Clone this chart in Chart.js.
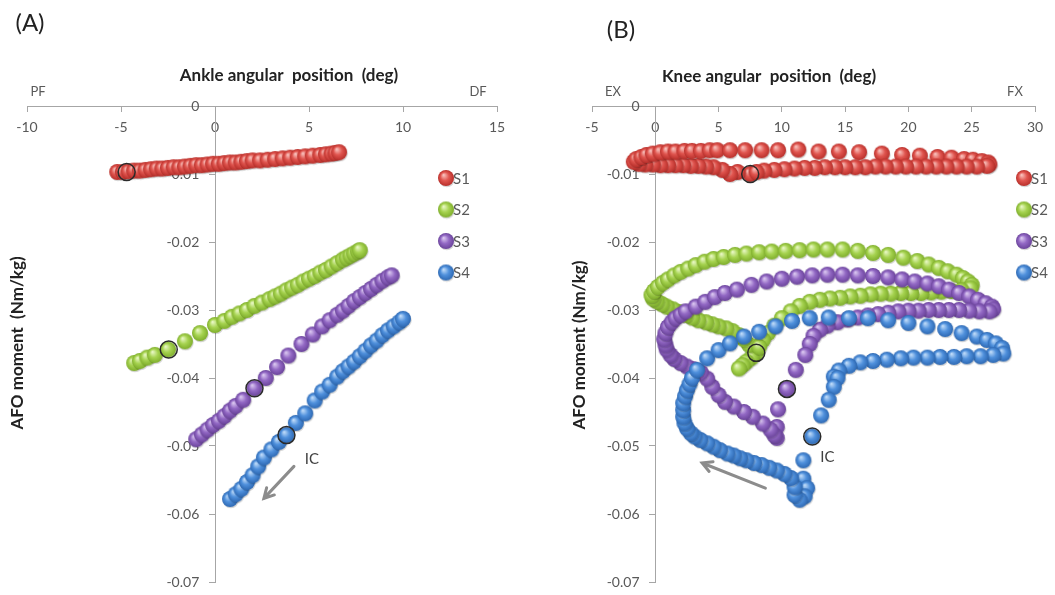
<!DOCTYPE html>
<html>
<head>
<meta charset="utf-8">
<script src="https://cdn.jsdelivr.net/npm/chart.js@4.4.1/dist/chart.umd.min.js"></script>
<style>
  body { margin: 0; background: #fff; }
  #wrap { position: relative; width: 1055px; height: 595px; }
  .panel { position: absolute; top: 0; }
</style>
</head>
<body>
<div id="wrap">
  <canvas id="chartA" class="panel" width="527" height="595" style="left:0"></canvas>
  <canvas id="chartB" class="panel" width="528" height="595" style="left:527px"></canvas>
</div>
<script>
// ---- series names / colours ----
const seriesNames = ['S1', 'S2', 'S3', 'S4'];

// ---- (A) ankle angle (deg) vs AFO moment (Nm/kg) ----
const ankleS1X = [-5.2, -4.9, -4.6, -4.3, -4.0, -3.7, -3.4, -3.1, -2.8, -2.5, -2.2, -1.9, -1.6, -1.3, -1.0, -0.7, -0.4, -0.1, 0.2, 0.5, 0.8, 1.1, 1.4, 1.7, 2.0, 2.4, 2.8, 3.2, 3.6, 4.0, 4.4, 4.8, 5.2, 5.6, 5.9, 6.2, 6.4, 6.6];
const ankleS1Y = [-0.0097, -0.0097, -0.0096, -0.0095, -0.0095, -0.0094, -0.0093, -0.0092, -0.0092, -0.0091, -0.0090, -0.0090, -0.0089, -0.0088, -0.0087, -0.0087, -0.0086, -0.0085, -0.0085, -0.0084, -0.0083, -0.0083, -0.0082, -0.0081, -0.0080, -0.0080, -0.0079, -0.0078, -0.0077, -0.0076, -0.0075, -0.0074, -0.0073, -0.0072, -0.0071, -0.0070, -0.0069, -0.0068];

const ankleS2X = [-4.3, -4.0, -3.6, -3.2, -2.5, -1.6, -0.8, 0.0, 0.5, 0.9, 1.3, 1.7, 2.1, 2.5, 2.9, 3.2, 3.5, 3.8, 4.1, 4.4, 4.7, 5.0, 5.3, 5.6, 5.9, 6.2, 6.5, 6.8, 7.0, 7.2, 7.4, 7.6, 7.7];
const ankleS2Y = [-0.0378, -0.0375, -0.0370, -0.0366, -0.0358, -0.0346, -0.0334, -0.0322, -0.0316, -0.0310, -0.0305, -0.0300, -0.0294, -0.0289, -0.0284, -0.0280, -0.0276, -0.0271, -0.0267, -0.0263, -0.0258, -0.0254, -0.0250, -0.0245, -0.0241, -0.0236, -0.0231, -0.0226, -0.0223, -0.0220, -0.0217, -0.0214, -0.0212];

const ankleS3X = [-1.0, -0.7, -0.4, -0.1, 0.2, 0.5, 0.8, 1.1, 1.5, 2.1, 2.7, 3.3, 3.9, 4.6, 5.2, 5.7, 6.1, 6.5, 6.8, 7.1, 7.4, 7.7, 8.0, 8.3, 8.6, 8.9, 9.2, 9.4];
const ankleS3Y = [-0.0490, -0.0483, -0.0476, -0.0469, -0.0463, -0.0456, -0.0448, -0.0441, -0.0432, -0.0415, -0.0400, -0.0384, -0.0367, -0.0350, -0.0336, -0.0324, -0.0315, -0.0307, -0.0301, -0.0294, -0.0287, -0.0281, -0.0275, -0.0269, -0.0263, -0.0257, -0.0252, -0.0249];

const ankleS4X = [0.8, 1.1, 1.4, 1.7, 2.0, 2.3, 2.6, 3.0, 3.4, 3.8, 4.3, 4.8, 5.3, 5.7, 6.1, 6.5, 6.8, 7.1, 7.4, 7.7, 8.0, 8.3, 8.6, 8.9, 9.2, 9.5, 9.8, 10.0];
const ankleS4Y = [-0.0578, -0.0571, -0.0563, -0.0553, -0.0543, -0.0530, -0.0517, -0.0505, -0.0494, -0.0484, -0.0466, -0.0452, -0.0433, -0.0420, -0.0410, -0.0398, -0.0390, -0.0383, -0.0376, -0.0368, -0.0360, -0.0352, -0.0345, -0.0337, -0.0330, -0.0324, -0.0318, -0.0313];

// initial contact points (ringed)
const ankleIcX = [-4.7, -2.46, 2.1, 3.8];
const ankleIcY = [-0.0097, -0.0358, -0.0415, -0.0484];

// ---- (B) knee angle (deg) vs AFO moment (Nm/kg) ----
const kneeS1X = [7.5, 6.5, 5.9, 5.3, 4.6, 4.0, 3.4, 2.8, 2.2, 1.6, 1.0, 0.4, -0.2, -0.8, -1.3, -1.7,
  -1.5, -1.1, -0.7, -0.2, 0.4, 1.0, 1.6, 2.3, 2.9, 3.6, 4.3, 4.9, 5.9, 7.1, 8.4, 9.7, 11.3, 12.9, 14.5, 16.1, 17.9, 19.5, 20.9, 22.3, 23.4, 24.4, 25.1, 25.8, 26.3, 26.4, 26.2,
  25.4, 24.6, 23.8, 23.0, 22.2, 21.4, 20.6, 19.8, 19.0, 18.2, 17.4, 16.6, 15.8, 15.0, 14.2, 13.4, 12.6, 11.8, 11.0, 10.2, 9.4, 8.6, 8.0];
const kneeS1Y = [-0.0100, -0.0097, -0.0100, -0.0094, -0.0090, -0.0089, -0.0088, -0.0088, -0.0087, -0.0087, -0.0087, -0.0087, -0.0086, -0.0086, -0.0085, -0.0082,
  -0.0078, -0.0075, -0.0072, -0.0070, -0.0068, -0.0067, -0.0067, -0.0066, -0.0066, -0.0066, -0.0065, -0.0065, -0.0065, -0.0065, -0.0065, -0.0065, -0.0064, -0.0067, -0.0067, -0.0068, -0.0070, -0.0072, -0.0073, -0.0075, -0.0076, -0.0078, -0.0079, -0.0081, -0.0083, -0.0086, -0.0088,
  -0.0089, -0.0089, -0.0089, -0.0089, -0.0089, -0.0089, -0.0089, -0.0089, -0.0089, -0.0089, -0.0089, -0.0090, -0.0090, -0.0090, -0.0090, -0.0090, -0.0091, -0.0091, -0.0092, -0.0093, -0.0094, -0.0095, -0.0097];

const kneeS2X = [7.98, 7.6, 7.2, 6.9, 6.6,
  7.4, 7.0, 6.6, 6.1, 5.6, 5.0, 4.5, 4.0, 3.4, 2.9, 2.4, 1.9, 1.4, 0.9, 0.5, 0.1, -0.2, -0.3, -0.1, 0.2, 0.6, 1.0, 1.5, 2.0, 2.6, 3.2, 3.9, 4.6, 5.4, 6.3, 7.2, 8.2, 9.2, 10.3, 11.4, 12.5, 13.6, 14.8, 16.0, 17.2, 18.4, 19.6, 20.7, 21.6, 22.4, 23.1, 23.8, 24.3, 24.7, 25.0, 24.9,
  24.2, 23.4, 22.6, 21.8, 21.0, 20.2, 19.4, 18.6, 17.8, 17.0, 16.2, 15.4, 14.6, 13.8, 13.0, 12.2, 11.4, 10.7, 10.0, 9.4, 8.9, 8.5, 8.2];
const kneeS2Y = [-0.0363, -0.0370, -0.0376, -0.0381, -0.0386,
  -0.0351, -0.0343, -0.0337, -0.0331, -0.0327, -0.0324, -0.0321, -0.0318, -0.0315, -0.0311, -0.0307, -0.0303, -0.0299, -0.0295, -0.0291, -0.0287, -0.0283, -0.0278, -0.0272, -0.0266, -0.0260, -0.0255, -0.0249, -0.0244, -0.0239, -0.0234, -0.0229, -0.0225, -0.0222, -0.0219, -0.0217, -0.0215, -0.0214, -0.0213, -0.0212, -0.0211, -0.0211, -0.0211, -0.0213, -0.0216, -0.0219, -0.0223, -0.0228, -0.0233, -0.0238, -0.0243, -0.0248, -0.0253, -0.0258, -0.0263, -0.0268,
  -0.0271, -0.0272, -0.0273, -0.0274, -0.0275, -0.0275, -0.0275, -0.0276, -0.0276, -0.0277, -0.0279, -0.0280, -0.0282, -0.0283, -0.0285, -0.0288, -0.0294, -0.0302, -0.0312, -0.0323, -0.0334, -0.0344, -0.0354];

const kneeS3X = [10.4, 9.7, 9.6, 9.6, 9.4,
  9.1, 8.5, 7.7, 7.0, 6.2, 5.5, 5.0, 4.5, 4.1, 3.6, 3.0, 2.5, 2.0, 1.5, 1.2, 0.9, 0.8, 0.7, 0.8, 1.0, 1.3, 1.6, 2.0, 2.4, 3.2, 3.95, 4.7, 5.5, 6.45, 7.6, 8.8, 10.0, 11.2, 12.4, 13.6, 14.8, 16.0, 17.2, 18.4, 19.5, 20.5, 21.5, 22.4, 23.2, 24.0, 24.8, 25.5, 26.1, 26.6, 26.7, 26.4,
  25.6, 24.8, 24.0, 23.2, 22.4, 21.6, 20.8, 20.0, 19.2, 18.4, 17.6, 16.8, 16.0, 15.2, 14.4, 13.6, 13.0, 12.5, 12.2, 11.85, 11.1];
const kneeS3Y = [-0.0416, -0.0446, -0.0472, -0.0488, -0.0484,
  -0.0476, -0.0467, -0.0457, -0.0450, -0.0442, -0.0435, -0.0425, -0.0413, -0.0401, -0.0392, -0.0387, -0.0383, -0.0378, -0.0372, -0.0366, -0.0358, -0.0351, -0.0343, -0.0334, -0.0325, -0.0318, -0.0312, -0.0307, -0.0302, -0.0295, -0.0288, -0.0281, -0.0275, -0.0270, -0.0263, -0.0258, -0.0254, -0.0251, -0.0249, -0.0248, -0.0248, -0.0249, -0.0250, -0.0252, -0.0255, -0.0258, -0.0261, -0.0265, -0.0270, -0.0275, -0.0280, -0.0285, -0.0290, -0.0295, -0.0299, -0.0302,
  -0.0302, -0.0301, -0.0300, -0.0300, -0.0300, -0.0300, -0.0301, -0.0301, -0.0302, -0.0304, -0.0306, -0.0308, -0.0311, -0.0314, -0.0318, -0.0323, -0.0329, -0.0338, -0.0350, -0.0366, -0.0388];

const kneeS4X = [12.4, 11.7, 11.7, 12.0, 11.8, 11.4, 11.0, 11.0, 10.7, 10.2, 9.6, 9.0, 8.4, 7.8, 7.2, 6.7, 6.2, 5.7, 5.1, 4.6, 4.1, 3.55, 3.1, 2.8, 2.5, 2.3, 2.2, 2.2, 2.2, 2.35, 2.5, 2.7, 2.9,
  3.3, 4.1, 5.0, 5.9, 7.0, 8.2, 9.5, 10.8, 12.2, 13.7, 15.3, 16.8, 18.4, 20.0, 21.5, 22.9, 24.2, 25.4, 26.2, 26.9, 27.4, 27.5,
  26.7, 25.7, 24.6, 23.6, 22.5, 21.5, 20.4, 19.4, 18.3, 17.2, 16.2, 15.3, 14.5, 14.1, 14.4, 14.1, 13.7, 13.1];
const kneeS4Y = [-0.0486, -0.0521, -0.0548, -0.0562, -0.0574, -0.0579, -0.0572, -0.0560, -0.0547, -0.0541, -0.0536, -0.0532, -0.0528, -0.0525, -0.0521, -0.0518, -0.0514, -0.0511, -0.0506, -0.0501, -0.0496, -0.0491, -0.0486, -0.0481, -0.0474, -0.0466, -0.0457, -0.0447, -0.0437, -0.0427, -0.0418, -0.0409, -0.0400,
  -0.0388, -0.0371, -0.0359, -0.0349, -0.0339, -0.0332, -0.0324, -0.0316, -0.0312, -0.0311, -0.0312, -0.0312, -0.0315, -0.0319, -0.0324, -0.0328, -0.0334, -0.0339, -0.0344, -0.0349, -0.0356, -0.0364,
  -0.0366, -0.0368, -0.0368, -0.0369, -0.0369, -0.0370, -0.0370, -0.0371, -0.0373, -0.0375, -0.0377, -0.0382, -0.0389, -0.0398, -0.0400, -0.0413, -0.0432, -0.0455];

const kneeIcX = [7.5, 7.98, 10.4, 12.4];
const kneeIcY = [-0.0100, -0.0363, -0.0416, -0.0486];

// ---- look ----
const FONT = 'Lato, "Open Sans", sans-serif';
const GREY = '#595959';
const AXIS = '#a6a6a6';
const ballColors = [
  { base: '#e0554f', light: '#f8bdb8', dark: '#b9302b' },
  { base: '#a6d350', light: '#e6f6c0', dark: '#7fae2c' },
  { base: '#9268c4', light: '#d8c4ef', dark: '#6b449b' },
  { base: '#4f90dc', light: '#bcd9f8', dark: '#2e69b3' }
];

// little shaded ball used as point style
function sphere(c) {
  const size = 20;
  const cv = document.createElement('canvas');
  cv.width = cv.height = size;
  const g = cv.getContext('2d');
  const r = 8;
  const cx = size / 2, cy = size / 2;
  g.fillStyle = 'rgba(0,0,0,0.16)';
  g.beginPath();
  g.arc(cx + 0.8, cy + 1.3, r, 0, Math.PI * 2);
  g.fill();
  const grad = g.createRadialGradient(cx - 2.4, cy - 3, 0.5, cx, cy, r);
  grad.addColorStop(0, c.light);
  grad.addColorStop(0.5, c.base);
  grad.addColorStop(1, c.dark);
  g.fillStyle = grad;
  g.beginPath();
  g.arc(cx, cy, r, 0, Math.PI * 2);
  g.fill();
  return cv;
}
const balls = ballColors.map(sphere);

const pts = (xs, ys) => xs.map((x, i) => ({ x: x, y: ys[i] }));

// y labels sit flush on a centred axis, so leave a gap after the number
function yLabel(v) {
  const txt = Math.abs(v) < 1e-9 ? '0' : v.toFixed(2);
  return txt + '\u2002\u2002\u2009';
}

// texts, legend, arrow, IC label
const extrasPlugin = {
  id: 'extras',
  afterDraw(chart, args, o) {
    const ctx = chart.ctx;
    const sx = chart.scales.x, sy = chart.scales.y;
    ctx.save();
    ctx.textAlign = 'center';
    ctx.textBaseline = 'middle';
    // panel letter
    ctx.fillStyle = '#222';
    ctx.font = '24px ' + FONT;
    ctx.fillText(o.letter, o.letterPos[0], o.letterPos[1]);
    // x title
    ctx.font = 'bold 17px ' + FONT;
    ctx.fillText(o.xTitle, o.xTitlePos[0], o.xTitlePos[1]);
    // direction words
    ctx.fillStyle = GREY;
    ctx.font = '13px ' + FONT;
    ctx.fillText(o.leftWord, o.leftWordPos[0], o.leftWordPos[1]);
    ctx.fillText(o.rightWord, o.rightWordPos[0], o.rightWordPos[1]);
    // y title
    ctx.save();
    ctx.translate(o.yTitlePos[0], o.yTitlePos[1]);
    ctx.rotate(-Math.PI / 2);
    ctx.fillStyle = '#222';
    ctx.font = 'bold 17px ' + FONT;
    ctx.fillText(o.yTitle, 0, 0);
    ctx.restore();
    // legend
    ctx.textAlign = 'left';
    ctx.font = '15px ' + FONT;
    ctx.fillStyle = GREY;
    seriesNames.forEach((name, i) => {
      const ly = o.legendPos[1] + i * 31.5;
      ctx.drawImage(balls[i], o.legendPos[0] - 10, ly - 10);
      ctx.fillText(name, o.legendPos[0] + 7, ly + 1);
    });
    // arrow
    const x1 = sx.getPixelForValue(o.arrow[0]), y1 = sy.getPixelForValue(o.arrow[1]);
    const x2 = sx.getPixelForValue(o.arrow[2]), y2 = sy.getPixelForValue(o.arrow[3]);
    const ang = Math.atan2(y2 - y1, x2 - x1);
    ctx.strokeStyle = '#8c8c8c';
    ctx.lineWidth = 3;
    ctx.lineCap = 'round';
    ctx.beginPath();
    ctx.moveTo(x1, y1);
    ctx.lineTo(x2, y2);
    ctx.moveTo(x2 + 11 * Math.cos(ang + Math.PI - 0.5), y2 + 11 * Math.sin(ang + Math.PI - 0.5));
    ctx.lineTo(x2, y2);
    ctx.lineTo(x2 + 11 * Math.cos(ang + Math.PI + 0.5), y2 + 11 * Math.sin(ang + Math.PI + 0.5));
    ctx.stroke();
    // IC label
    ctx.textAlign = 'center';
    ctx.fillStyle = '#404040';
    ctx.font = '15px ' + FONT;
    ctx.fillText('IC', sx.getPixelForValue(o.icLabel[0]), sy.getPixelForValue(o.icLabel[1]));
    ctx.restore();
  }
};

function makeChart(id, series, icX, icY, xMin, xMax, pad, extras) {
  const datasets = [{
    label: 'IC',
    data: pts(icX, icY),
    pointStyle: 'circle',
    pointRadius: 8.5,
    pointBackgroundColor: 'rgba(0,0,0,0)',
    pointBorderColor: '#2a2a2a',
    pointBorderWidth: 1.5,
    showLine: false,
    order: 0
  }];
  series.forEach((s, i) => {
    datasets.push({
      label: seriesNames[i],
      data: pts(s[0], s[1]),
      pointStyle: balls[i],
      showLine: false,
      order: 4 - i
    });
  });
  return new Chart(document.getElementById(id), {
    type: 'scatter',
    data: { datasets: datasets },
    plugins: [extrasPlugin],
    options: {
      responsive: false,
      animation: false,
      layout: { padding: pad },
      plugins: { legend: { display: false }, tooltip: { enabled: false }, extras: extras },
      scales: {
        x: {
          type: 'linear',
          position: { y: 0 },
          min: xMin, max: xMax,
          afterFit: (s) => { s.height = 0; },
          ticks: { stepSize: 5, color: GREY, font: { family: FONT, size: 14 }, padding: 8 },
          grid: { display: true, drawOnChartArea: false, drawTicks: true, tickLength: 5, color: AXIS },
          border: { display: true, color: AXIS, width: 1 }
        },
        y: {
          type: 'linear',
          position: { x: 0 },
          min: -0.07, max: 0,
          afterFit: (s) => { s.width = 0; },
          ticks: { stepSize: 0.01, color: GREY, font: { family: FONT, size: 14 }, callback: yLabel },
          grid: { display: true, drawOnChartArea: false, drawTicks: true, tickLength: 6, color: AXIS },
          border: { display: true, color: AXIS, width: 1 }
        }
      }
    }
  });
}

makeChart('chartA',
  [[ankleS1X, ankleS1Y], [ankleS2X, ankleS2Y], [ankleS3X, ankleS3Y], [ankleS4X, ankleS4Y]],
  ankleIcX, ankleIcY, -10, 15,
  { left: 27, right: 30, top: 106, bottom: 13 },
  {
    letter: '(A)', letterPos: [30, 23],
    xTitle: 'Ankle angular  position  (deg)', xTitlePos: [289, 76],
    leftWord: 'PF', leftWordPos: [38, 92], rightWord: 'DF', rightWordPos: [478, 92],
    yTitle: 'AFO moment  (Nm/kg)', yTitlePos: [18, 343],
    legendPos: [446, 178],
    arrow: [4.2, -0.0530, 2.6, -0.0577],
    icLabel: [5.15, -0.0520]
  });

makeChart('chartB',
  [[kneeS1X, kneeS1Y], [kneeS2X, kneeS2Y], [kneeS3X, kneeS3Y], [kneeS4X, kneeS4Y]],
  kneeIcX, kneeIcY, -5, 30,
  { left: 65, right: 20, top: 106, bottom: 13 },
  {
    letter: '(B)', letterPos: [94, 30],
    xTitle: 'Knee angular  position  (deg)', xTitlePos: [242, 77],
    leftWord: 'EX', leftWordPos: [86, 92], rightWord: 'FX', rightWordPos: [488, 92],
    yTitle: 'AFO moment (Nm/kg)', yTitlePos: [53, 345],
    legendPos: [497, 178],
    arrow: [8.7, -0.0562, 3.7, -0.0525],
    icLabel: [13.6, -0.0516]
  });
</script>
</body>
</html>
